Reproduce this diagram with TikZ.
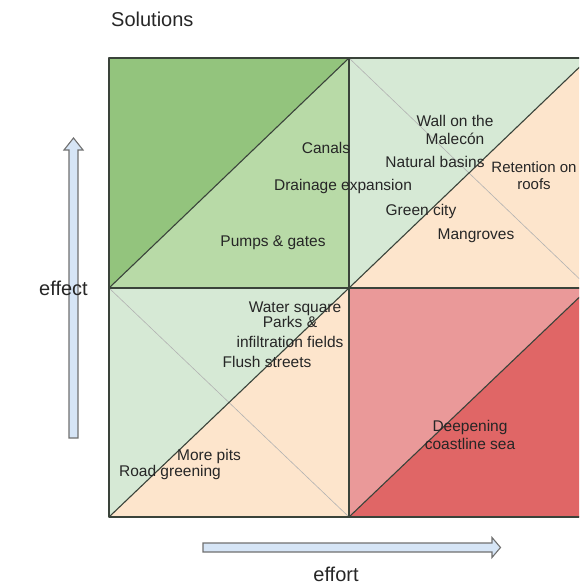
\documentclass[tikz,border=0pt]{standalone}
\usepackage{fontspec}
\setmainfont{Liberation Sans}
\definecolor{tlA}{HTML}{93C47D}
\definecolor{tlB}{HTML}{B8DAA7}
\definecolor{lg}{HTML}{D6E9D5}
\definecolor{pe}{HTML}{FDE5CC}
\definecolor{pk}{HTML}{EA9999}
\definecolor{rd}{HTML}{E06666}
\definecolor{txt}{HTML}{262626}
\definecolor{edgec}{HTML}{3A433A}
\definecolor{arrfill}{HTML}{D6E5F6}
\definecolor{arrline}{HTML}{707070}
\begin{document}
\begin{tikzpicture}[x=1pt,y=-1pt,
  lbl/.style={text=txt, font=\fontsize{15.5}{18}\selectfont, align=center, inner sep=0pt},
  big/.style={text=txt, font=\fontsize{20}{22}\selectfont, inner sep=0pt},
  edgeline/.style={draw=edgec, line width=1.1pt, line join=round},
  faint/.style={draw=black!30, line width=0.6pt},
  blockarrow/.style={draw=arrline, fill=arrfill, line width=1.1pt, line join=miter}]
\useasboundingbox (0,0) rectangle (579,584);
\begin{scope}
\clip (0,0) rectangle (579,584);
% top-left quadrant
\fill[tlA] (109,58) -- (349,58) -- (109,288) -- cycle;
\fill[tlB] (349,58) -- (349,288) -- (109,288) -- cycle;
% top-right quadrant
\fill[lg] (349,58) -- (589,58) -- (349,288) -- cycle;
\fill[pe] (589,58) -- (589,288) -- (349,288) -- cycle;
% bottom-left quadrant
\fill[lg] (109,288) -- (349,288) -- (109,517) -- cycle;
\fill[pe] (349,288) -- (349,517) -- (109,517) -- cycle;
% bottom-right quadrant
\fill[pk] (349,288) -- (589,288) -- (349,517) -- cycle;
\fill[rd] (589,288) -- (589,517) -- (349,517) -- cycle;
% faint diagonals
\draw[faint] (349,58) -- (589,288);
\draw[faint] (109,288) -- (349,517);
% dark diagonals
\draw[edgeline] (109,288) -- (349,58);
\draw[edgeline] (349,288) -- (589,58);
\draw[edgeline] (109,517) -- (349,288);
\draw[edgeline] (349,517) -- (589,288);
% outlines
\draw[edgeline] (109,58) rectangle (589,517);
\draw[edgeline] (349,58) -- (349,517);
\draw[edgeline] (109,288) -- (589,288);
\end{scope}
% axis arrows
\draw[blockarrow] (69,438) -- (69,150) -- (64,150) -- (73.5,138) -- (83,150) -- (78,150) -- (78,438) -- cycle;
\draw[blockarrow] (203,543) -- (492,543) -- (492,537.5) -- (500.5,547.5) -- (492,557.5) -- (492,552) -- (203,552) -- cycle;
% titles
\node[big, anchor=base west] (title) at (111,26) {Solutions};
\node[big, anchor=base west] (effect) at (39,295) {effect};
\node[big, anchor=base] (effort) at (336,581) {effort};
% labels
\node[lbl, anchor=base] (canals) at (326,153) {Canals};
\node[lbl, anchor=base] (drain) at (343,190) {Drainage expansion};
\node[lbl, anchor=base] (pumps) at (273,246) {Pumps \& gates};
\node[lbl, font=\fontsize{15.5}{18}\selectfont] (wall) at (455,129.5) {Wall on the\\Malecón};
\node[lbl, anchor=base] (basins) at (435,167) {Natural basins};
\node[lbl, font=\fontsize{15}{17}\selectfont] (retention) at (534,176) {Retention on\\roofs};
\node[lbl, anchor=base] (green) at (421,215) {Green city};
\node[lbl, anchor=base] (mangroves) at (476,239) {Mangroves};
\node[lbl, anchor=base] (water) at (295,312) {Water square};
\node[lbl, font=\fontsize{15.5}{20}\selectfont] (parks) at (290,331.5) {Parks \&\\infiltration fields};
\node[lbl, anchor=base] (flush) at (267,367) {Flush streets};
\node[lbl, anchor=base] (pits) at (209,460) {More pits};
\node[lbl, anchor=base] (road) at (170,476) {Road greening};
\node[lbl, font=\fontsize{15.5}{17.5}\selectfont] (deepen) at (470,435) {Deepening\\coastline sea};
\end{tikzpicture}
\end{document}
